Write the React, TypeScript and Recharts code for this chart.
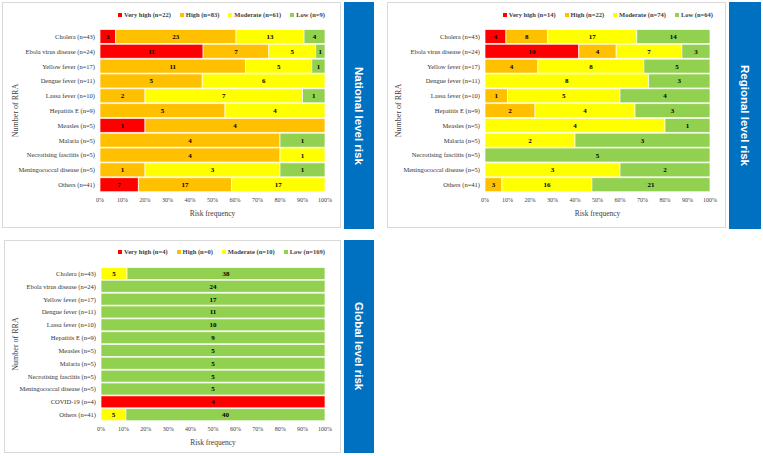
import { BarChart, Bar, XAxis, YAxis, LabelList } from "recharts";

const SERIF = '"Liberation Serif", "Times New Roman", serif';

const seriesNames = ["Very high", "High", "Moderate", "Low"];
const seriesKeys = ["veryHigh", "high", "moderate", "low"];
const seriesColors = ["#FF0000", "#FFC000", "#FFFF00", "#92D050"];
const percentTicks = [0, 0.1, 0.2, 0.3, 0.4, 0.5, 0.6, 0.7, 0.8, 0.9, 1];

const baseCategories = [
  "Cholera (n=43)",
  "Ebola virus disease (n=24)",
  "Yellow fever (n=17)",
  "Dengue fever (n=11)",
  "Lassa fever (n=10)",
  "Hepatitis E (n=9)",
  "Measles (n=5)",
  "Malaria (n=5)",
  "Necrotising fasciitis (n=5)",
  "Meningococcal disease (n=5)",
  "Others (n=41)",
];

const nationalVeryHigh = [3, 11, 0, 0, 0, 0, 1, 0, 0, 0, 7];
const nationalHigh = [23, 7, 11, 5, 2, 5, 4, 4, 4, 1, 17];
const nationalModerate = [13, 5, 5, 6, 7, 4, 0, 0, 1, 3, 17];
const nationalLow = [4, 1, 1, 0, 1, 0, 0, 1, 0, 1, 0];
const nationalTotals = [22, 83, 61, 9];

const regionalVeryHigh = [4, 10, 0, 0, 0, 0, 0, 0, 0, 0, 0];
const regionalHigh = [8, 4, 4, 0, 1, 2, 0, 0, 0, 0, 3];
const regionalModerate = [17, 7, 8, 8, 5, 4, 4, 2, 0, 3, 16];
const regionalLow = [14, 3, 5, 3, 4, 3, 1, 3, 5, 2, 21];
const regionalTotals = [14, 22, 74, 64];

const globalCategories = [
  "Cholera (n=43)",
  "Ebola virus disease (n=24)",
  "Yellow fever (n=17)",
  "Dengue fever (n=11)",
  "Lassa fever (n=10)",
  "Hepatitis E (n=9)",
  "Measles (n=5)",
  "Malaria (n=5)",
  "Necrotising fasciitis (n=5)",
  "Meningococcal disease (n=5)",
  "COVID-19 (n=4)",
  "Others (n=41)",
];
const globalVeryHigh = [0, 0, 0, 0, 0, 0, 0, 0, 0, 0, 4, 0];
const globalHigh = [0, 0, 0, 0, 0, 0, 0, 0, 0, 0, 0, 0];
const globalModerate = [5, 0, 0, 0, 0, 0, 0, 0, 0, 0, 0, 5];
const globalLow = [38, 24, 17, 11, 10, 9, 5, 5, 5, 5, 0, 40];
const globalTotals = [4, 0, 10, 169];

function buildRows(categories: string[], series: number[][]) {
  return categories.map((name, i) => {
    const row: Record<string, string | number> = { name };
    seriesKeys.forEach((k, s) => {
      row[k] = series[s][i];
    });
    return row;
  });
}

// single-line category tick (the default one wraps long names)
function CategoryTick(props: any) {
  const { x, y, payload } = props;
  return (
    <text
      x={x}
      y={y}
      textAnchor="end"
      dominantBaseline="central"
      fontSize={6.5}
      fontFamily={SERIF}
      fill="#333"
    >
      {payload.value}
    </text>
  );
}

type Rect = { left: number; top: number; width: number; height: number };

type PanelProps = {
  title: string;
  rows: Record<string, string | number>[];
  totals: number[];
  box: Rect;
  blue: Rect;
  margin: { top: number; right: number; bottom: number; left: number };
  yWidth: number;
  yLabelOffset: number;
  legendTop: number;
  legendRight: number;
};

function RiskPanel(p: PanelProps) {
  const chartW = p.box.width - 2;
  const chartH = p.box.height - 2;
  return (
    <>
      <div
        style={{
          position: "absolute",
          left: p.box.left,
          top: p.box.top,
          width: p.box.width,
          height: p.box.height,
          boxSizing: "border-box",
          border: "1px solid #d9d9d9",
          background: "#fff",
        }}
      >
        <BarChart
          width={chartW}
          height={chartH}
          data={p.rows}
          layout="vertical"
          stackOffset="expand"
          barCategoryGap={0.5}
          margin={p.margin}
        >
          <XAxis
            type="number"
            domain={[0, 1]}
            ticks={percentTicks}
            tickFormatter={(v: number) => `${Math.round(v * 100)}%`}
            axisLine={false}
            tickLine={false}
            tickSize={4}
            tickMargin={2}
            height={26}
            tick={{ fontSize: 6, fontFamily: SERIF, fill: "#404040" }}
            label={{
              value: "Risk frequency",
              position: "insideBottom",
              offset: 2,
              style: { fontSize: 7.5, fontFamily: SERIF, fill: "#404040" },
            }}
          />
          <YAxis
            type="category"
            dataKey="name"
            width={p.yWidth}
            interval={0}
            axisLine={false}
            tickLine={false}
            tickSize={3}
            tickMargin={2}
            tick={<CategoryTick />}
            label={{
              value: "Number of RRA",
              angle: -90,
              position: "insideLeft",
              offset: p.yLabelOffset,
              style: {
                textAnchor: "middle",
                fontSize: 8,
                fontFamily: SERIF,
                fill: "#404040",
              },
            }}
          />
          {seriesKeys.map((k, s) => (
            <Bar
              key={k}
              dataKey={k}
              stackId="a"
              fill={seriesColors[s]}
              stroke="#fff"
              strokeWidth={0.7}
              isAnimationActive={false}
            >
              <LabelList
                dataKey={k}
                position="center"
                formatter={(v: any) => (v ? v : "")}
                style={{
                  fontSize: 7,
                  fontWeight: "bold",
                  fontFamily: SERIF,
                  fill: "#000",
                }}
              />
            </Bar>
          ))}
        </BarChart>
      </div>
      <div
        style={{
          position: "absolute",
          top: p.legendTop,
          right: 763 - p.legendRight,
          display: "flex",
          gap: 9,
          alignItems: "center",
          fontFamily: SERIF,
          fontSize: 6.5,
          fontWeight: "bold",
          color: "#404040",
          whiteSpace: "nowrap",
          lineHeight: "8px",
        }}
      >
        {seriesNames.map((n, s) => (
          <div key={n} style={{ display: "flex", alignItems: "center", gap: 2 }}>
            <span
              style={{
                display: "inline-block",
                width: 4,
                height: 4,
                background: seriesColors[s],
              }}
            />
            <span>{`${n} (n=${p.totals[s]})`}</span>
          </div>
        ))}
      </div>
      <div
        style={{
          position: "absolute",
          left: p.blue.left,
          top: p.blue.top,
          width: p.blue.width,
          height: p.blue.height,
          background: "#0070C0",
          display: "flex",
          alignItems: "center",
          justifyContent: "center",
        }}
      >
        <span
          style={{
            writingMode: "vertical-rl",
            color: "#fff",
            fontFamily: '"Liberation Sans", Arial, sans-serif',
            fontWeight: "bold",
            fontSize: 11.5,
            whiteSpace: "nowrap",
          }}
        >
          {p.title}
        </span>
      </div>
    </>
  );
}

export default function App() {
  const nationalRows = buildRows(baseCategories, [
    nationalVeryHigh,
    nationalHigh,
    nationalModerate,
    nationalLow,
  ]);
  const regionalRows = buildRows(baseCategories, [
    regionalVeryHigh,
    regionalHigh,
    regionalModerate,
    regionalLow,
  ]);
  const globalRows = buildRows(globalCategories, [
    globalVeryHigh,
    globalHigh,
    globalModerate,
    globalLow,
  ]);

  return (
    <div
      style={{
        position: "absolute",
        left: 0,
        top: 0,
        width: 763,
        height: 456,
        background: "#fff",
        overflow: "hidden",
      }}
    >
      <RiskPanel
        title="National level risk"
        rows={nationalRows}
        totals={nationalTotals}
        box={{ left: 2, top: 2, width: 339, height: 226 }}
        blue={{ left: 344, top: 2, width: 30, height: 227 }}
        margin={{ top: 26, right: 15, bottom: 9, left: 0 }}
        yWidth={97}
        yLabelOffset={12}
        legendTop={11}
        legendRight={325}
      />
      <RiskPanel
        title="Regional level risk"
        rows={regionalRows}
        totals={regionalTotals}
        box={{ left: 387, top: 2, width: 339, height: 226 }}
        blue={{ left: 729, top: 2, width: 32, height: 227 }}
        margin={{ top: 26, right: 15, bottom: 9, left: 0 }}
        yWidth={97}
        yLabelOffset={10}
        legendTop={11}
        legendRight={713}
      />
      <RiskPanel
        title="Global level risk"
        rows={globalRows}
        totals={globalTotals}
        box={{ left: 4, top: 240, width: 337, height: 213 }}
        blue={{ left: 344, top: 240, width: 30, height: 213 }}
        margin={{ top: 26, right: 15, bottom: 5, left: 0 }}
        yWidth={96}
        yLabelOffset={10}
        legendTop={248}
        legendRight={325}
      />
    </div>
  );
}
